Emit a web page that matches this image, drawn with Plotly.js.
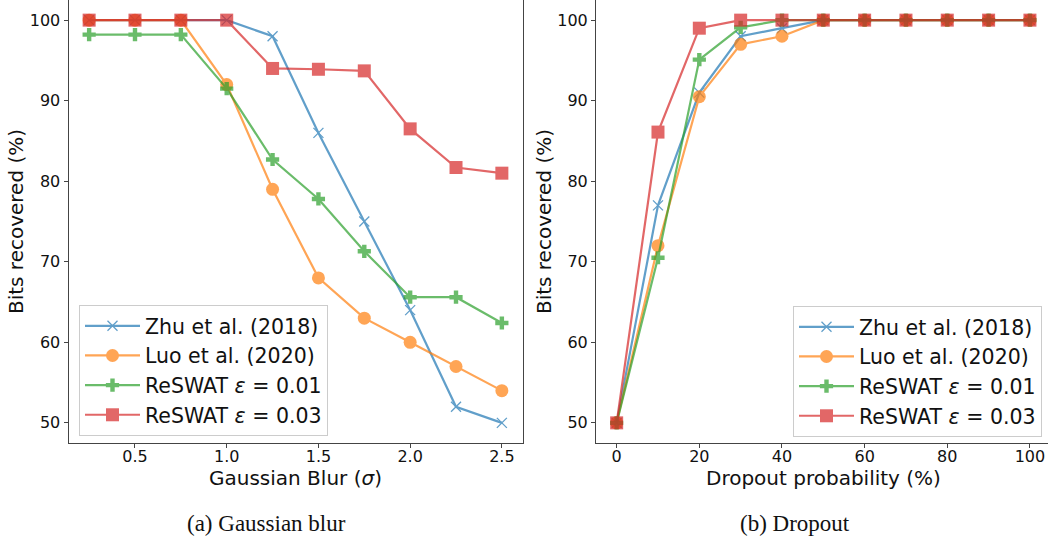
<!DOCTYPE html>
<html>
<head>
<meta charset="utf-8">
<script src="https://cdn.plot.ly/plotly-3.0.1.min.js"></script>
<style>html,body{margin:0;padding:0;background:#fff;}#chart{width:1048px;height:540px;}</style>
</head>
<body>
<div id="chart"></div>
<script>
// ---- Data ----
const blurSigma = [0.25, 0.5, 0.75, 1.0, 1.25, 1.5, 1.75, 2.0, 2.25, 2.5];
const blurZhu   = [100, 100, 100, 100, 98, 86, 75, 64, 52, 50];
const blurLuo   = [100, 100, 100, 92, 79, 68, 63, 60, 57, 54];
const blurEps01 = [98.2, 98.2, 98.2, 91.5, 82.7, 77.8, 71.3, 65.6, 65.6, 62.4];
const blurEps03 = [100, 100, 100, 100, 94.0, 93.9, 93.7, 86.5, 81.7, 81.0];

const dropProb  = [0, 10, 20, 30, 40, 50, 60, 70, 80, 90, 100];
const dropZhu   = [50, 77, 91, 98, 99, 100, 100, 100, 100, 100, 100];
const dropLuo   = [50, 72, 90.5, 97, 98, 100, 100, 100, 100, 100, 100];
const dropEps01 = [50, 70.5, 95.1, 99.1, 100, 100, 100, 100, 100, 100, 100];
const dropEps03 = [50, 86.1, 99, 100, 100, 100, 100, 100, 100, 100, 100];

const seriesNames = ["Zhu et al. (2018)", "Luo et al. (2020)", "ReSWAT <i>ε</i> = 0.01", "ReSWAT <i>ε</i> = 0.03"];
const blurTicks = [0.5, 1.0, 1.5, 2.0, 2.5];
const dropTicks = [0, 20, 40, 60, 80, 100];
const yTicks = [50, 60, 70, 80, 90, 100];

// ---- Styles ----
const colors = ["#1f77b4", "#ff7f0e", "#2ca02c", "#d62728"];
const markerStyles = [
  {symbol: "x-thin-open", size: 10, line: {width: 1.3, color: colors[0]}},
  {symbol: "circle", size: 13},
  {symbol: "cross", size: 11},
  {symbol: "square", size: 13}
];
const FONT = "DejaVu Sans, Verdana, sans-serif";
const SERIF = "Liberation Serif, Times New Roman, serif";

function mk(x, y, i, xa, ya, legend) {
  const m = Object.assign({color: colors[i]}, markerStyles[i]);
  return {
    x: x, y: y, type: "scatter", mode: "lines+markers",
    name: seriesNames[i], xaxis: xa, yaxis: ya, legend: legend,
    opacity: 0.7,
    line: {color: colors[i], width: 2.2},
    marker: m
  };
}

const blurSeries = [blurZhu, blurLuo, blurEps01, blurEps03];
const dropSeries = [dropZhu, dropLuo, dropEps01, dropEps03];
const traces = [];
blurSeries.forEach((s, i) => traces.push(mk(blurSigma, s, i, "x", "y", "legend")));
dropSeries.forEach((s, i) => traces.push(mk(dropProb, s, i, "x2", "y2", "legend2")));

const axisCommon = {
  showgrid: false, zeroline: false, showline: true, linecolor: "#444", linewidth: 1,
  ticks: "outside", ticklen: 4, tickwidth: 1, tickcolor: "#444",
  tickfont: {family: FONT, size: 16, color: "#111"}
};
const titleFont = {family: FONT, size: 20, color: "#111"};

const legendCommon = {
  bgcolor: "rgba(255,255,255,0.8)", bordercolor: "#cccccc", borderwidth: 1,
  font: {family: FONT, size: 20.5, color: "#111"},
  xanchor: "left", yanchor: "top", tracegroupgap: 0, itemwidth: 55
};

const layout = {
  width: 1048, height: 540, autosize: false,
  margin: {l: 0, r: 0, t: 0, b: 0},
  paper_bgcolor: "#ffffff", plot_bgcolor: "#ffffff",
  font: {family: FONT, color: "#111"},
  xaxis: Object.assign({}, axisCommon, {
    domain: [68.5/1048, 522.5/1048], range: [0.1375, 2.6125], anchor: "y", mirror: true,
    tickvals: blurTicks, ticktext: blurTicks.map(v => v.toFixed(1)), ticklabelstandoff: -5
  }),
  yaxis: Object.assign({}, axisCommon, {
    domain: [97/540, 1], range: [47.5, 102.5], anchor: "x", mirror: true,
    tickvals: yTicks,
    title: {text: "Bits recovered (%)", font: titleFont, standoff: 0}
  }),
  xaxis2: Object.assign({}, axisCommon, {
    domain: [596/1048, 1], range: [-5, 104.37], anchor: "y2", mirror: true,
    tickvals: dropTicks, ticklabelstandoff: -5
  }),
  yaxis2: Object.assign({}, axisCommon, {
    domain: [97/540, 1], range: [47.5, 102.5], anchor: "x2", mirror: false,
    tickvals: yTicks,
    title: {text: "Bits recovered (%)", font: titleFont, standoff: 0}
  }),
  showlegend: true,
  legend: Object.assign({}, legendCommon, {x: 79/1048, y: (540-305)/540}),
  legend2: Object.assign({}, legendCommon, {x: 793/1048, y: (540-306)/540}),
  annotations: [
    {text: "Gaussian Blur (<i>σ</i>)", xref: "paper", yref: "paper", x: 295.5/1048, y: (540-478)/540,
     xanchor: "center", yanchor: "middle", showarrow: false, font: titleFont},
    {text: "Dropout probability (%)", xref: "paper", yref: "paper", x: 823/1048, y: (540-478)/540,
     xanchor: "center", yanchor: "middle", showarrow: false, font: titleFont},
    {text: "(a) Gaussian blur", xref: "paper", yref: "paper", x: 266/1048, y: (540-523)/540,
     xanchor: "center", yanchor: "middle", showarrow: false,
     font: {family: SERIF, size: 23, color: "#111"}},
    {text: "(b) Dropout", xref: "paper", yref: "paper", x: 795/1048, y: (540-523)/540,
     xanchor: "center", yanchor: "middle", showarrow: false,
     font: {family: SERIF, size: 23, color: "#111"}}
  ]
};

Plotly.newPlot("chart", traces, layout, {staticPlot: true, displayModeBar: false});
</script>
</body>
</html>
